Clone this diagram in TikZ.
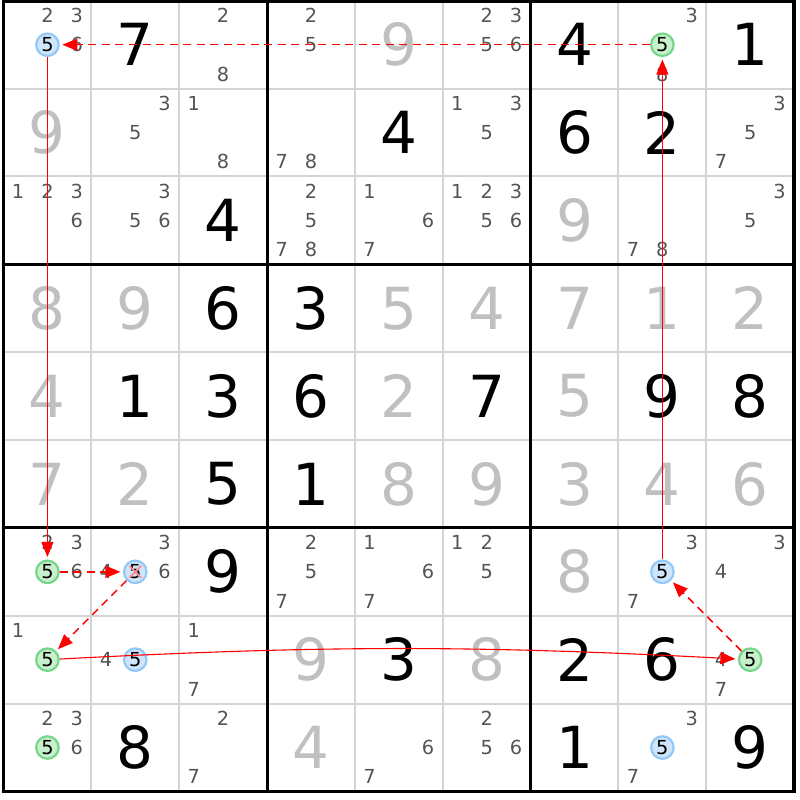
\documentclass[tikz,border=0pt]{standalone}
\usepackage{fontspec}
\setmainfont{DejaVu Sans}
\usepackage{xcolor}
\usetikzlibrary{arrows.meta,positioning}
\definecolor{solvedgray}{RGB}{192,192,192}
\definecolor{candgray}{RGB}{84,84,84}
\definecolor{gridgray}{RGB}{212,212,212}
\definecolor{markblue}{RGB}{206,229,252}
\definecolor{markblueline}{RGB}{150,200,245}
\definecolor{markgreen}{RGB}{200,240,204}
\definecolor{markgreenline}{RGB}{120,214,140}
\definecolor{linkred}{RGB}{255,0,0}

\tikzset{
  clue/.style={font=\fontsize{33}{36}\selectfont, text=black, inner sep=0pt},
  solved/.style={clue, text=solvedgray},
  cand/.style={font=\fontsize{11}{13}\selectfont, text=candgray, inner sep=0pt},
  bluemark/.style={circle, draw=markblueline, fill=markblue, line width=0.45mm, minimum size=4.5mm, inner sep=0pt, font=\fontsize{11}{13}\selectfont},
  greenmark/.style={bluemark, draw=markgreenline, fill=markgreen},
  strong/.style={->, draw=linkred, line width=0.22mm, shorten >=0.5mm},
  weak/.style={strong, line width=0.3mm, dash pattern=on 1.6mm off 1.1mm},
  crossout/.style={draw=linkred!45, line width=0.35mm, shorten >=0.8mm, shorten <=0.8mm}
}

\begin{document}
\begin{tikzpicture}[x=1.757cm, y=-1.757cm, >={Triangle[length=3mm,width=2.4mm]}]
\useasboundingbox (-0.0398,-0.0091) rectangle (9.0666,9.0973);

% grid
\foreach \i in {1,2,4,5,7,8} {
  \draw[gridgray, line width=0.4mm] (\i,0) -- (\i,9);
  \draw[gridgray, line width=0.4mm] (0,\i) -- (9,\i);
}
\foreach \i in {3,6} {
  \draw[black, line width=0.6mm] (\i,0) -- (\i,9);
  \draw[black, line width=0.6mm] (0,\i) -- (9,\i);
}
\draw[black, line width=0.7mm] (0,0) rectangle (9,9);

% clues
\foreach \r/\c/\d in {0/1/7, 0/6/4, 0/8/1, 1/4/4, 1/6/6, 1/7/2, 2/2/4, 3/2/6, 3/3/3, 4/1/1, 4/2/3, 4/3/6,
                       4/5/7, 4/7/9, 4/8/8, 5/2/5, 5/3/1, 6/2/9, 7/4/3, 7/6/2, 7/7/6, 8/1/8, 8/6/1, 8/8/9}
  \node[clue] (n\r\c) at (\c+0.5,\r+0.5) {\d};

% solved cells
\foreach \r/\c/\d in {0/4/9, 1/0/9, 2/6/9, 3/0/8, 3/1/9, 3/4/5, 3/5/4, 3/6/7, 3/7/1, 3/8/2, 4/0/4, 4/4/2,
                       4/6/5, 5/0/7, 5/1/2, 5/4/8, 5/5/9, 5/6/3, 5/7/4, 5/8/6, 6/6/8, 7/3/9, 7/5/8, 8/3/4}
  \node[solved] (n\r\c) at (\c+0.5,\r+0.5) {\d};

% candidates
\foreach \r/\c/\d in {0/0/2, 0/0/3, 0/0/6, 0/2/2, 0/2/8, 0/3/2, 0/3/5, 0/5/2, 0/5/3, 0/5/5, 0/5/6, 0/7/3, 0/7/8,
                       1/1/3, 1/1/5, 1/2/1, 1/2/8, 1/3/7, 1/3/8, 1/5/1, 1/5/3, 1/5/5, 1/8/3, 1/8/5, 1/8/7,
                       2/0/1, 2/0/2, 2/0/3, 2/0/6, 2/1/3, 2/1/5, 2/1/6, 2/3/2, 2/3/5, 2/3/7, 2/3/8, 2/4/1, 2/4/6, 2/4/7,
                       2/5/1, 2/5/2, 2/5/3, 2/5/5, 2/5/6, 2/7/7, 2/7/8, 2/8/3, 2/8/5,
                       6/0/2, 6/0/3, 6/0/6, 6/1/3, 6/1/4, 6/1/6, 6/3/2, 6/3/5, 6/3/7, 6/4/1, 6/4/6, 6/4/7,
                       6/5/1, 6/5/2, 6/5/5, 6/7/3, 6/7/7, 6/8/3, 6/8/4,
                       7/0/1, 7/1/4, 7/2/1, 7/2/7, 7/8/4, 7/8/7,
                       8/0/2, 8/0/3, 8/0/6, 8/2/2, 8/2/7, 8/4/6, 8/4/7, 8/5/2, 8/5/5, 8/5/6, 8/7/3, 8/7/7}
  \node[cand] (k\r\c\d) at ({\c+mod(\d-1,3)/3+1/6},{\r+int((\d-1)/3)/3+1/6}) {\d};

% marked fives
\node[bluemark] (p00) at (0.5,0.5) {5};
\node[greenmark] (p07) at (7.5,0.5) {5};
\node[greenmark] (p60) at (0.5,6.5) {5};
\node[bluemark] (p61) at (1.5,6.5) {5};
\node[bluemark] (p67) at (7.5,6.5) {5};
\node[greenmark] (p70) at (0.5,7.5) {5};
\node[bluemark] (p71) at (1.5,7.5) {5};
\node[greenmark] (p78) at (8.5,7.5) {5};
\node[greenmark] (p80) at (0.5,8.5) {5};
\node[bluemark] (p87) at (7.5,8.5) {5};

% chain
\draw[weak] (p07) -- (p00);
\draw[strong] (p00) -- (p60);
\draw[weak] (p60) -- (p61);
\draw[weak] (p61) -- (p70);
\draw[strong] (p70) to[bend left=3] (p78);
\draw[weak] (p78) -- (p67);
\draw[strong] (p67) -- (p07);

% eliminated
\draw[crossout] (p61.north west) -- (p61.south east);
\draw[crossout] (p61.north east) -- (p61.south west);
\end{tikzpicture}
\end{document}
